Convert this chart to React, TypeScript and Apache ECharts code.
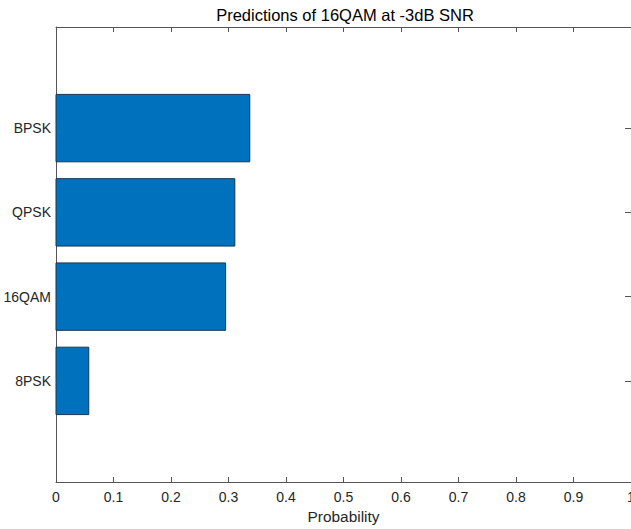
import React, { useEffect, useRef } from "react";
import * as echarts from "echarts";

const categories = ["8PSK", "16QAM", "QPSK", "BPSK"];
const probabilities = [0.057, 0.295, 0.311, 0.337];
const categoryPositions = [1, 2, 3, 4];
const titleText = "Predictions of 16QAM at -3dB SNR";
const xAxisName = "Probability";

const FONT = "'Liberation Sans', Arial, Helvetica, sans-serif";
const AXIS_COLOR = "#555555";
const TEXT_COLOR = "#262626";

export default function App() {
  const ref = useRef<HTMLDivElement>(null);

  useEffect(() => {
    if (!ref.current) return;
    const chart = echarts.init(ref.current, undefined, { renderer: "svg" });

    const xBase = {
      type: "value" as const,
      min: 0,
      max: 1,
      interval: 0.1,
      splitLine: { show: false },
      axisLine: { show: true, onZero: false, lineStyle: { color: AXIS_COLOR, width: 1 } },
      axisTick: { show: true, inside: true, length: 5, lineStyle: { color: AXIS_COLOR } },
    };
    const yBase = {
      type: "value" as const,
      min: -0.2,
      max: 5.2,
      splitLine: { show: false },
      axisLine: { show: true, onZero: false, lineStyle: { color: AXIS_COLOR, width: 1 } },
      axisTick: {
        show: true,
        inside: true,
        length: 6,
        customValues: categoryPositions,
        lineStyle: { color: AXIS_COLOR },
      },
    };

    chart.setOption({
      animation: false,
      backgroundColor: "#ffffff",
      grid: {
        left: 56,
        right: 0,
        top: 27,
        bottom: 47,
        containLabel: false,
        outerBoundsMode: "none",
      },
      graphic: [
        {
          type: "text",
          x: 345,
          y: 15,
          style: {
            text: titleText,
            textAlign: "center",
            textVerticalAlign: "middle",
            font: `16.5px ${FONT}`,
            fill: "#000000",
          },
        },
      ],
      xAxis: [
        {
          ...xBase,
          position: "bottom",
          name: xAxisName,
          nameLocation: "middle",
          nameGap: 25,
          nameTextStyle: { fontFamily: FONT, fontSize: 15.4, color: TEXT_COLOR },
          axisLabel: {
            show: true,
            margin: 8,
            fontFamily: FONT,
            fontSize: 14,
            color: TEXT_COLOR,
            formatter: (v: number) => String(Math.round(v * 10) / 10),
          },
        },
        {
          ...xBase,
          position: "top",
          axisLabel: { show: false },
        },
      ],
      yAxis: [
        {
          ...yBase,
          position: "left",
          axisLabel: {
            show: true,
            margin: 5,
            customValues: categoryPositions,
            fontFamily: FONT,
            fontSize: 14,
            color: TEXT_COLOR,
            formatter: (v: number) => categories[Math.round(v) - 1] ?? "",
          },
        },
        {
          ...yBase,
          position: "right",
          axisLabel: { show: false },
        },
      ],
      series: [
        {
          type: "custom",
          xAxisIndex: 0,
          yAxisIndex: 0,
          encode: { x: 0, y: 1 },
          data: probabilities.map((v, i) => [v, categoryPositions[i]]),
          renderItem: (params: any, api: any) => {
            const v = api.value(0);
            const p = api.value(1);
            const start = api.coord([0, p]);
            const end = api.coord([v, p]);
            const h = api.size([0, 0.8])[1];
            return {
              type: "rect",
              shape: { x: start[0], y: start[1] - h / 2, width: end[0] - start[0], height: h },
              style: { fill: "#0072BD", stroke: "#1b3550", lineWidth: 1 },
            };
          },
        },
      ],
    });

    return () => chart.dispose();
  }, []);

  return (
    <div
      ref={ref}
      style={{ position: "fixed", left: 0, top: 0, width: 631, height: 529, background: "#fff" }}
    />
  );
}
